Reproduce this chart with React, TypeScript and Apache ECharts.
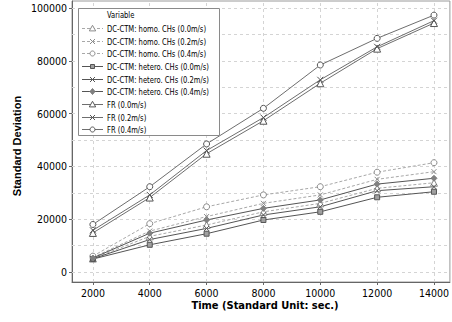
import React, { useEffect, useRef } from "react";
import * as echarts from "echarts";

const times = [2000, 4000, 6000, 8000, 10000, 12000, 14000];
const xTickValues = [2000, 4000, 6000, 8000, 10000, 12000, 14000];
const yLabelValues = [0, 20000, 40000, 60000, 80000, 100000];
const yGridValues = [0, 10000, 20000, 30000, 40000, 50000, 60000, 70000, 80000, 90000, 100000];

const seriesNames = [
  "DC-CTM: homo. CHs (0.0m/s)",
  "DC-CTM: homo. CHs (0.2m/s)",
  "DC-CTM: homo. CHs (0.4m/s)",
  "DC-CTM: hetero. CHs (0.0m/s)",
  "DC-CTM: hetero. CHs (0.2m/s)",
  "DC-CTM: hetero. CHs (0.4m/s)",
  "FR (0.0m/s)",
  "FR (0.2m/s)",
  "FR (0.4m/s)",
];

const homo00 = [5100, 13500, 17800, 22800, 26000, 31700, 33800];
const homo02 = [5500, 15500, 21000, 26000, 29200, 35100, 38000];
const homo04 = [6000, 18300, 24700, 29200, 32300, 37800, 41400];
const hetero00 = [4900, 10300, 14500, 19700, 22800, 28300, 30400];
const hetero02 = [5000, 12300, 16500, 21600, 24700, 30800, 32300];
const hetero04 = [5300, 14700, 19700, 24100, 27300, 33300, 35500];
const fr00 = [14800, 28200, 44800, 57300, 71500, 84600, 94300];
const fr02 = [15800, 29200, 46000, 58500, 72800, 85300, 95200];
const fr04 = [18000, 32300, 48500, 62000, 78400, 88500, 97300];

const X_PATH = "path://M0,0L10,10M10,0L0,10";

export default function App() {
  const ref = useRef<HTMLDivElement>(null);
  useEffect(() => {
    if (!ref.current) return;
    const chart = echarts.init(ref.current, undefined, { renderer: "svg" });
    const legendFont = "'DejaVu Sans Condensed', 'DejaVu Sans', sans-serif";
    const axisFont = "'DejaVu Sans Condensed', 'Liberation Sans', Arial, sans-serif";

    const dashedColor = "#a8a8a8";
    const heteroColor = "#555555";
    const frColor = "#6e6e6e";

    const defs = [
      { data: homo00, kind: "triangle", dashed: true, line: dashedColor, fill: "#ffffff", stroke: "#8a8a8a", size: 7 },
      { data: homo02, kind: "x", dashed: true, line: dashedColor, fill: "#ffffff", stroke: "#8a8a8a", size: 5 },
      { data: homo04, kind: "circle", dashed: true, line: dashedColor, fill: "#ffffff", stroke: "#8a8a8a", size: 6 },
      { data: hetero00, kind: "rect", dashed: false, line: heteroColor, fill: "#a0a0a0", stroke: "#555555", size: 5 },
      { data: hetero02, kind: "x", dashed: false, line: heteroColor, fill: "#ffffff", stroke: "#555555", size: 5 },
      { data: hetero04, kind: "diamond", dashed: false, line: heteroColor, fill: "#808080", stroke: "#808080", size: 6 },
      { data: fr00, kind: "triangle", dashed: false, line: frColor, fill: "#ffffff", stroke: "#555555", size: 7 },
      { data: fr02, kind: "x", dashed: false, line: frColor, fill: "#ffffff", stroke: "#555555", size: 6 },
      { data: fr04, kind: "circle", dashed: false, line: frColor, fill: "#ffffff", stroke: "#555555", size: 6 },
    ];

    const series: any[] = defs.map((d, i) => ({
      name: seriesNames[i],
      type: "line",
      data: times.map((t, k) => [t, d.data[k]]),
      symbol: d.kind === "x" ? X_PATH : d.kind,
      symbolSize: d.size,
      showAllSymbol: true,
      clip: false,
      z: 3,
      lineStyle: { color: d.line, width: 1, type: d.dashed ? [3, 2] : "solid" },
      itemStyle: { color: d.fill, borderColor: d.stroke, borderWidth: 1 },
      emphasis: { disabled: true },
    }));

    series[0].markLine = {
      silent: true,
      symbol: ["none", "none"],
      label: { show: false },
      z: 1,
      animation: false,
      lineStyle: { color: "#d4d4d4", width: 1, type: [3, 3] },
      data: [
        ...yGridValues.map((v) => ({ yAxis: v })),
        ...xTickValues.map((v) => ({ xAxis: v })),
      ],
    };

    // custom legend (box, title, items)
    const fontSize = 9;
    let scaleX = 0.85;
    try {
      const ctx = document.createElement("canvas").getContext("2d");
      if (ctx) {
        ctx.font = `${fontSize}px 'DejaVu Sans Condensed', 'DejaVu Sans', sans-serif`;
        const widest = Math.max(...seriesNames.map((s) => ctx.measureText(s).width));
        if (widest > 0) scaleX = Math.min(1, 102 / widest);
      }
    } catch (e) {}

    const lgX = 78, lgY = 8, lgW = 141, lgH = 127;
    const legendEls: any[] = [
      {
        type: "rect",
        z: 90,
        shape: { x: lgX + 0.5, y: lgY + 0.5, width: lgW, height: lgH },
        style: { fill: "#ffffff", stroke: "#8a8a8a", lineWidth: 1 },
        silent: true,
      },
      {
        type: "text",
        z: 93,
        x: 107,
        y: 14.5,
        scaleX,
        style: { text: "Variable", fontSize, fill: "#000000", fontFamily: legendFont, verticalAlign: "middle" },
        silent: true,
      },
    ];
    defs.forEach((d, i) => {
      const cy = Math.round(28 + i * 12.65) + 0.5;
      const cx = 92.5;
      legendEls.push({
        type: "line",
        z: 91,
        shape: { x1: 82, y1: cy, x2: 103, y2: cy },
        style: { stroke: d.line, lineWidth: 1, lineDash: d.dashed ? [3, 2] : null },
        silent: true,
      });
      const ms = { fill: d.fill, stroke: d.stroke, lineWidth: 1 };
      const r = 2.5;
      if (d.kind === "triangle") {
        legendEls.push({ type: "polygon", z: 92, shape: { points: [[cx, cy - 3.2], [cx + 3.2, cy + 2.4], [cx - 3.2, cy + 2.4]] }, style: ms, silent: true });
      } else if (d.kind === "circle") {
        legendEls.push({ type: "circle", z: 92, shape: { cx, cy, r }, style: ms, silent: true });
      } else if (d.kind === "rect") {
        legendEls.push({ type: "rect", z: 92, shape: { x: cx - 2, y: cy - 2, width: 4, height: 4 }, style: ms, silent: true });
      } else if (d.kind === "diamond") {
        legendEls.push({ type: "polygon", z: 92, shape: { points: [[cx, cy - 3], [cx + 2.5, cy], [cx, cy + 3], [cx - 2.5, cy]] }, style: ms, silent: true });
      } else {
        legendEls.push({ type: "line", z: 92, shape: { x1: cx - 2.5, y1: cy - 2.5, x2: cx + 2.5, y2: cy + 2.5 }, style: { stroke: d.stroke, lineWidth: 1 }, silent: true });
        legendEls.push({ type: "line", z: 92, shape: { x1: cx - 2.5, y1: cy + 2.5, x2: cx + 2.5, y2: cy - 2.5 }, style: { stroke: d.stroke, lineWidth: 1 }, silent: true });
      }
      legendEls.push({
        type: "text",
        z: 93,
        x: 107,
        y: cy,
        scaleX,
        style: { text: seriesNames[i], fontSize, fill: "#000000", fontFamily: legendFont, verticalAlign: "middle" },
        silent: true,
      });
    });

    chart.setOption({
      animation: false,
      backgroundColor: "#ffffff",
      grid: {
        left: 72,
        right: 0,
        top: 1,
        bottom: 40,
        show: true,
        borderColor: "#9a9a9a",
        borderWidth: 1,
        backgroundColor: "transparent",
      },
      xAxis: {
        type: "value",
        min: 1265,
        max: 14560,
        axisLine: { show: true, onZero: false, lineStyle: { color: "#666666", width: 1 } },
        axisTick: { show: true, length: 3, customValues: xTickValues, lineStyle: { color: "#666666" } },
        axisLabel: {
          customValues: xTickValues,
          formatter: (v: number) => String(v),
          color: "#000000",
          fontSize: 10.5,
          fontFamily: axisFont,
          margin: 5,
        },
        splitLine: { show: false },
      },
      yAxis: {
        type: "value",
        min: -3790,
        max: 102650,
        axisLine: { show: true, onZero: false, lineStyle: { color: "#666666", width: 1 } },
        axisTick: { show: true, length: 3, customValues: yLabelValues, lineStyle: { color: "#666666" } },
        axisLabel: {
          customValues: yLabelValues,
          formatter: (v: number) => String(v),
          color: "#000000",
          fontSize: 10.5,
          fontFamily: axisFont,
          margin: 5,
        },
        splitLine: { show: false },
      },
      graphic: [
        ...legendEls,
        {
          type: "text",
          x: 265,
          y: 305,
          z: 100,
          style: {
            text: "Time (Standard Unit: sec.)",
            fontSize: 11,
            fontWeight: "bold",
            fill: "#000000",
            fontFamily: "'DejaVu Sans Condensed', 'Liberation Sans', Arial, sans-serif",
            align: "center",
            verticalAlign: "middle",
          },
        },
        {
          type: "text",
          x: 17,
          y: 146,
          rotation: Math.PI / 2,
          z: 100,
          style: {
            text: "Standard Deviation",
            fontSize: 11,
            fontWeight: "bold",
            fill: "#000000",
            fontFamily: "'Liberation Sans', Arial, sans-serif",
            align: "center",
            verticalAlign: "middle",
          },
        },
      ],
      series,
    });
    return () => chart.dispose();
  }, []);
  return <div ref={ref} style={{ width: 452, height: 322, position: "absolute", left: 0, top: 0 }} />;
}
